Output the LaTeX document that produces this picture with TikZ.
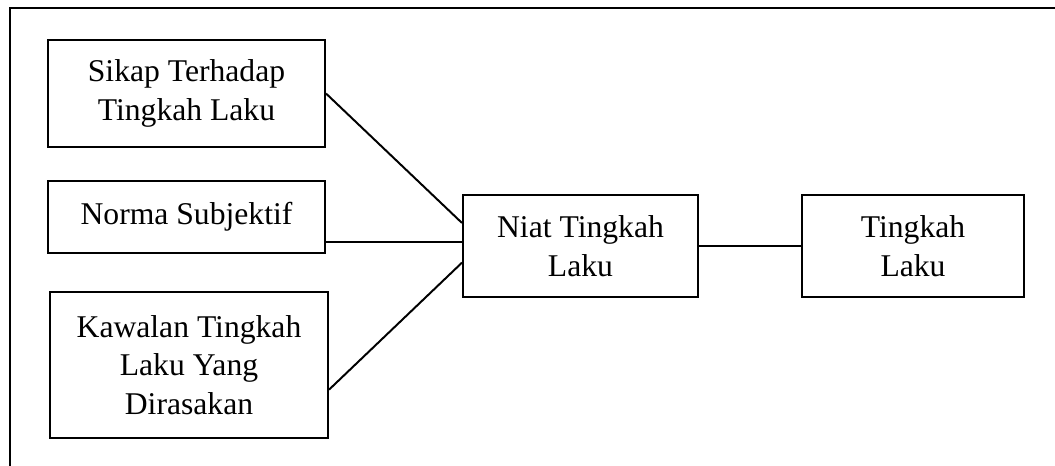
\documentclass[tikz,border=0pt]{standalone}
\usepackage{fontspec}
\setmainfont{Liberation Serif}
\begin{document}
\begin{tikzpicture}[x=0.025cm,y=-0.025cm,line width=1.4pt,
		kotak/.style={draw,align=center,inner sep=2pt,font=\fontsize{22.5}{27.5}\selectfont}]
			\def\lebar{6.925cm} % lebar kotak kiri
			\useasboundingbox (0,0) rectangle (1055,466);
			\draw (10,8) rectangle (1080,490);
			%\draw[help lines,step=1cm] (0,0) grid (1055,466);
			\node[kotak,minimum width=\lebar,minimum height=2.675cm] (sikap) at (186.5,93.5) {Sikap Terhadap\\Tingkah Laku};
			\node[kotak,minimum width=\lebar,minimum height=1.8cm] (norma) at (186.5,217) {Norma Subjektif};
			\node[kotak,minimum width=6.95cm,minimum height=3.65cm] (kawalan) at (189,365) {Kawalan Tingkah\\Laku Yang\\Dirasakan};
			\node[kotak,minimum width=5.875cm,minimum height=2.55cm] (niat) at (580.5,246) {Niat Tingkah\\Laku};
			\node[kotak,minimum width=5.55cm,minimum height=2.55cm] (tingkah) at (913,246) {Tingkah\\Laku};
			\draw (sikap.east) -- (niat.169);
			\draw (niat.178) -- (niat.178 -| norma.east);
			\draw (kawalan.350.6) -- (niat.188.2);
			\draw (niat.east) -- (tingkah.west);
		\end{tikzpicture}
\end{document}
